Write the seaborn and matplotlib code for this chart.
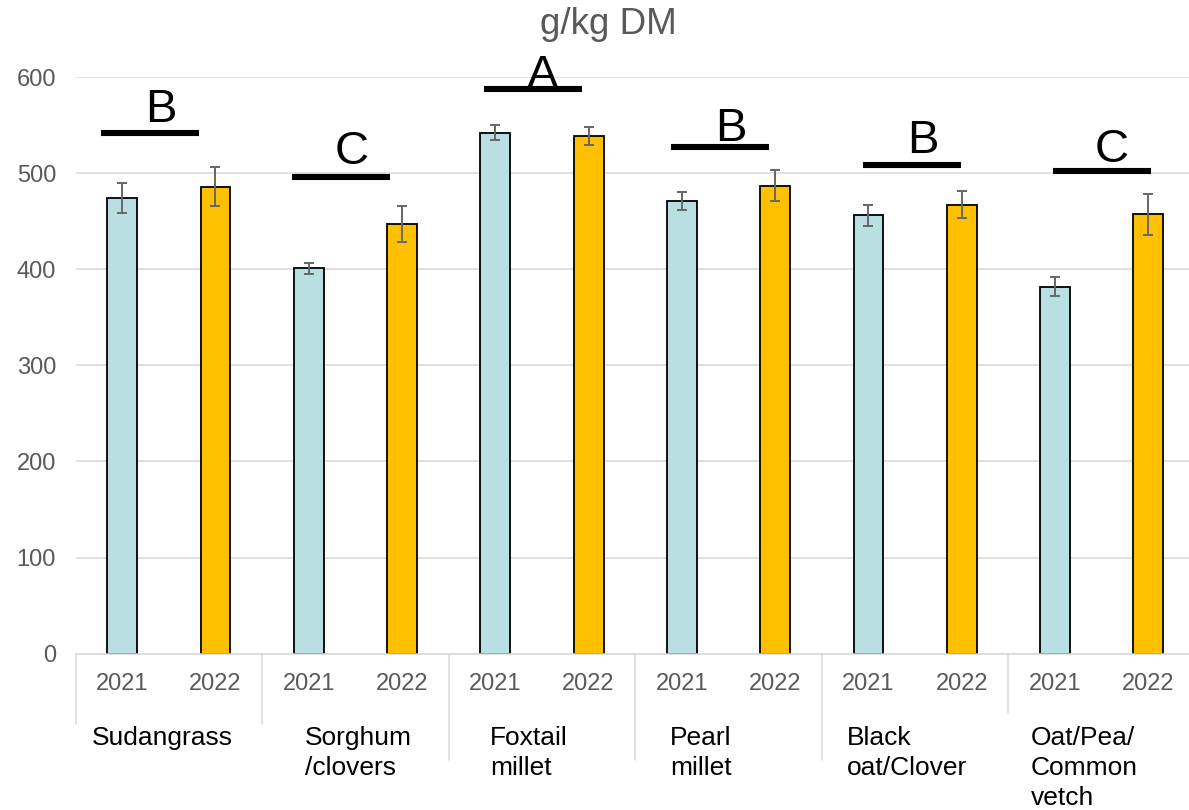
import matplotlib
matplotlib.use("Agg")
import matplotlib.pyplot as plt
import matplotlib.transforms as mtransforms
import seaborn as sns
import pandas as pd
import numpy as np

# ---- data ----
crops = ["Sudangrass", "Sorghum\n/clovers", "Foxtail\nmillet", "Pearl\nmillet",
         "Black\noat/Clover", "Oat/Pea/\nCommon\nvetch"]
years = ["2021", "2022"]
values_2021 = [474, 401, 542, 471, 456, 382]
values_2022 = [486, 447, 539, 487, 467, 457]
err_2021 = [16, 6, 8, 9, 11, 9.5]
err_2022 = [20, 19, 9.5, 16, 14, 21]
letters = ["B", "C", "A", "B", "B", "C"]
letter_line_y = [542, 496, 587, 527, 508, 502]
letter_text_y = [553, 509, 589, 533, 521, 512]
letter_center = [0.30, 2.35, 4.40, 6.41, 8.47, 10.50]
title = "g/kg DM"

rows = []
for i, crop in enumerate(crops):
    for yr, vals, errs in ((years[0], values_2021, err_2021), (years[1], values_2022, err_2022)):
        rows.append({"slot": f"{i}-{yr}", "crop": crop, "year": yr,
                     "value": vals[i], "err": errs[i]})
df = pd.DataFrame(rows)

sns.set_style("white")
plt.rcParams["font.family"] = ["Liberation Sans", "DejaVu Sans"]

W, H = 1189, 810
fig = plt.figure(figsize=(W / 100, H / 100), dpi=100)
ax_left, ax_right, ax_top, ax_bottom = 75.5, 1195, 77, 653.7
ax = fig.add_axes([ax_left / W, (H - ax_bottom) / H,
                   (ax_right - ax_left) / W, (ax_bottom - ax_top) / H])

palette = {"2021": "#BADFE2", "2022": "#FFC000"}
sns.barplot(data=df, x="slot", y="value", hue="year", palette=palette,
            saturation=1, dodge=False, width=0.32, edgecolor="black",
            linewidth=1.3, errorbar=None, legend=False, ax=ax, zorder=2)

pos = np.arange(len(df))
ax.errorbar(pos, df["value"], yerr=df["err"], fmt="none", ecolor="#666666",
            elinewidth=1.4, capsize=3.4, capthick=1.4, zorder=3)

ax.set_xlim(-0.5, len(df) - 0.5)
ax.set_ylim(0, 600)
ax.set_yticks(range(0, 601, 100))
ax.set_xticks(pos)
ax.set_xticklabels(df["year"])
ax.set_xlabel("")
ax.set_ylabel("")
ax.yaxis.grid(True, color="#d9d9d9", linewidth=1.1, zorder=0)
ax.xaxis.grid(False)
ax.set_axisbelow(True)
for s in ("top", "right", "left"):
    ax.spines[s].set_visible(False)
ax.spines["bottom"].set_color("#d9d9d9")
ax.spines["bottom"].set_linewidth(1.1)
ax.tick_params(axis="x", length=0, pad=14, labelsize=17, labelcolor="#595959")
ax.tick_params(axis="y", length=0, pad=14, labelsize=17, labelcolor="#595959")

# significance letters with bars
for c, ly, ty, let in zip(letter_center, letter_line_y, letter_text_y, letters):
    ax.plot([c - 0.525, c + 0.525], [ly, ly], color="black", lw=4.4,
            solid_capstyle="butt", clip_on=False, zorder=4)
    ax.text(c + 0.11, ty, let, ha="center", va="baseline", fontsize=34,
            color="black", clip_on=False)

# category labels and separators
blend = mtransforms.blended_transform_factory(ax.transData, ax.transAxes)
ph = ax_bottom - ax_top
def px_to_axes(py):
    return (ax_bottom - py) / ph

label_start = [0.18, 0.46, 0.44, 0.37, 0.27, 0.24]
for i, crop in enumerate(crops):
    ax.text(2 * i - 0.5 + label_start[i], px_to_axes(726), crop, transform=blend,
            ha="left", va="top", multialignment="left", fontsize=19,
            color="black", linespacing=1.32)

sep_ends = [724, 724, 760, 760, 760, 713, 713]
for k, pe in enumerate(sep_ends):
    x = 2 * k - 0.5
    ax.plot([x, x], [0, px_to_axes(pe)], transform=blend, color="#d9d9d9",
            lw=1.1, clip_on=False)

fig.text(608 / W, 1 - 25 / H, title, ha="center", va="center",
         fontsize=26.5, color="#595959")

fig.savefig("out.png", dpi=100)
